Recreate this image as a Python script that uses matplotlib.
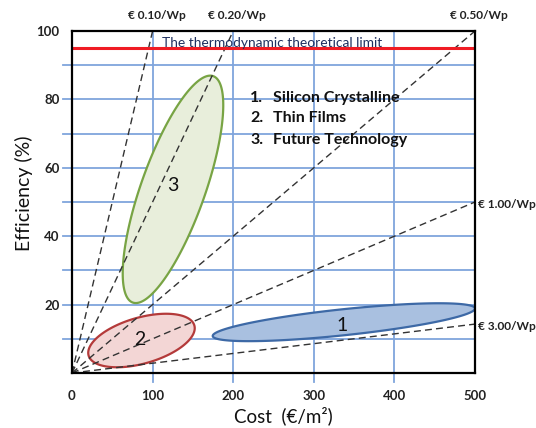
import numpy as np
import matplotlib
matplotlib.use("Agg")
import matplotlib.pyplot as plt

plt.rcParams['font.family'] = ['Lato', 'DejaVu Sans']

# cost / efficiency regions (ends of the long axis of each ellipse)
region_names = ['Silicon Crystalline', 'Thin Films', 'Future Technology']
region_ids = ['1', '2', '3']
region_cost_lo = [174.6, 20.6, 75.4]
region_eff_lo = [10.8, 5.1, 20.6]
region_cost_hi = [500.0, 151.8, 175.2]
region_eff_hi = [18.9, 13.9, 86.8]
region_label_cost = [334.6, 84.0, 125.0]
region_label_eff = [14.0, 9.9, 54.7]

# constant price-per-watt lines, drawn from the origin
price_labels = ['€ 0.10/Wp', '€ 0.20/Wp', '€ 0.50/Wp', '€ 1.00/Wp', '€ 3.00/Wp']
line_end_cost = [100, 200, 500, 500, 500]
line_end_eff = [100, 100, 100, 50, 14.3]

limit_eff = 95
limit_text = 'The thermodynamic theoretical limit'

x_ticks = [0, 100, 200, 300, 400, 500]
y_ticks = [20, 40, 60, 80, 100]
x_grid = [100, 200, 300, 400]
y_grid = [10, 20, 30, 40, 50, 60, 70, 80, 90]

grid_col = '#7fa5dc'
half_widths = [13, 23, 32]  # px, across each ellipse
fill_cols = ['#a9c0e0', '#f3d6d5', '#e8eedb']
edge_cols = ['#3d69a6', '#b43a3a', '#78a444']


def region_outline(ax, p0, p1, half_w, n=240):
    # ellipse drawn in screen space between two data points
    a0 = ax.transData.transform(p0)
    a1 = ax.transData.transform(p1)
    c = (a0 + a1) / 2
    d = (a1 - a0) / 2
    u = d / np.hypot(*d)
    v = np.array([-u[1], u[0]]) * half_w
    t = np.linspace(0, 2 * np.pi, n)
    pts = c + np.outer(np.cos(t), d) + np.outer(np.sin(t), v)
    return ax.transData.inverted().transform(pts)


fig = plt.figure(figsize=(5.36, 4.28), dpi=100)
ax = fig.add_axes([72 / 536, 55 / 428, 403 / 536, 342 / 428])
ax.set_xlim(0, 500)
ax.set_ylim(0, 100)

ax.set_xticks(x_ticks)
ax.set_yticks(y_ticks)
ax.tick_params(length=0, labelsize=9.5, labelcolor='#222222')
ax.tick_params(axis='x', pad=12)
ax.tick_params(axis='y', pad=9)
for lab in ax.get_xticklabels() + ax.get_yticklabels():
    lab.set_fontweight('bold')
for s in ax.spines.values():
    s.set_linewidth(1.6)
    s.set_zorder(5)

# grid lines, sticking out past the axes like ticks
for y in y_grid:
    ax.plot([-9 / 403, 1], [y, y], transform=ax.get_yaxis_transform(),
            color=grid_col, lw=1.3, zorder=0, clip_on=False)
for x in x_grid:
    ax.plot([x, x], [-9 / 342, 1], transform=ax.get_xaxis_transform(),
            color=grid_col, lw=1.3, zorder=0, clip_on=False)

for i in range(3):
    pts = region_outline(ax, (region_cost_lo[i], region_eff_lo[i]),
                         (region_cost_hi[i], region_eff_hi[i]), half_widths[i])
    ax.fill(pts[:, 0], pts[:, 1], facecolor=fill_cols[i], edgecolor=edge_cols[i],
            lw=1.6, zorder=2)
    ax.text(region_label_cost[i], region_label_eff[i], region_ids[i],
            fontsize=14, ha='center', va='center', color='#111111', zorder=6)

for i in range(len(price_labels)):
    ax.plot([0, line_end_cost[i]], [0, line_end_eff[i]], color='#333333',
            lw=1.0, ls=(0, (5, 3)), zorder=3, clip_on=False)
    if i < 3:
        ax.annotate(price_labels[i], (line_end_cost[i], line_end_eff[i]),
                    xytext=(3, 11), textcoords='offset points', ha='center',
                    va='center', fontsize=8.6, fontweight='bold',
                    color='#222222', annotation_clip=False)
    else:
        ax.annotate(price_labels[i], (line_end_cost[i], line_end_eff[i]),
                    xytext=(2, -1.5), textcoords='offset points', ha='left',
                    va='center', fontsize=8.6, fontweight='bold',
                    color='#222222', annotation_clip=False)

ax.axhline(limit_eff, color='#f01c24', lw=2.2, zorder=4)
ax.text(111.7, 96.4, limit_text, fontsize=9.9, color='#1f3060',
        ha='left', va='center', zorder=6)

for i in range(3):
    y = [80.5, 74.6, 68.1][i]
    ax.text(221, y, region_ids[i] + '.', fontsize=11.5, fontweight='bold',
            ha='left', va='center', color='#111111', zorder=6)
    ax.text(249.5, y, region_names[i], fontsize=11.5, fontweight='bold',
            ha='left', va='center', color='#111111', zorder=6)

ax.set_ylabel('Efficiency (%)', fontsize=14, va='center', color='#111111')
ax.yaxis.set_label_coords(-0.119, 0.526)
ax.set_xlabel('Cost  (€/m²)', fontsize=13.5, va='center', color='#111111')
ax.xaxis.set_label_coords(0.5236, -0.1257)

fig.savefig('out.png', dpi=100)
